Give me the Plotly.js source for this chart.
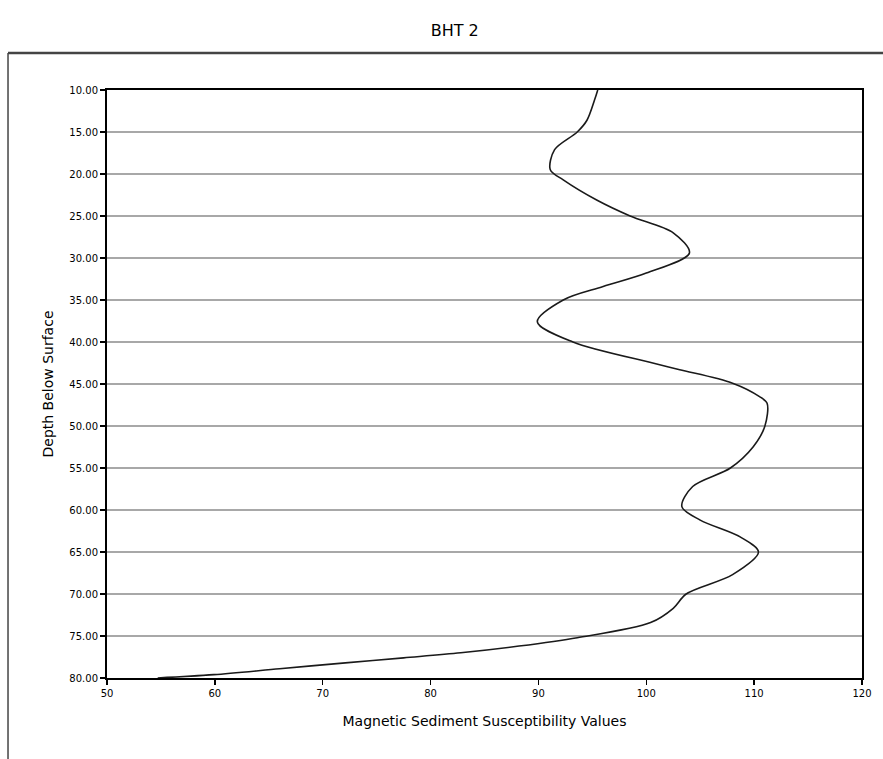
<!DOCTYPE html>
<html>
<head>
<meta charset="utf-8">
<script src="https://cdn.plot.ly/plotly-3.0.1.min.js"></script>
<style>html,body{margin:0;padding:0;background:#fff;}#chart{width:883px;height:759px;}</style>
</head>
<body>
<div id="chart"></div>
<script>
// Depth below surface (y) and susceptibility values (x)
const depth = [10, 11.2, 13.6, 15, 17.1, 19.5, 20.7, 23.1, 25, 27, 29.4, 31.8, 33.4, 35, 37.6, 40, 42.5, 43.3, 44.9, 46.5, 47.3, 50, 52.5, 55, 57.2, 59.6, 61.2, 63.2, 65, 67.7, 70, 71.7, 73.4, 75.2, 76.2, 77, 77.6, 78.2, 78.9, 79.6, 80];
const susceptibility = [95.5, 95.2, 94.5, 93.6, 91.5, 91.1, 92.3, 95.4, 98.5, 102.5, 104.0, 100.0, 96.0, 92.3, 89.9, 93.2, 100.6, 103.1, 108.0, 110.5, 111.2, 111.0, 109.9, 107.8, 104.3, 103.3, 105.0, 108.7, 110.4, 108.0, 103.7, 102.5, 100.4, 93.6, 88.2, 82.8, 77.5, 72.1, 66.0, 59.9, 54.7];
const chartTitle = "BHT 2";
const xTitle = "Magnetic Sediment Susceptibility Values";
const yTitle = "Depth Below Surface";

const trace = {
  x: susceptibility,
  y: depth,
  type: 'scatter',
  mode: 'lines',
  line: {color: '#1a1a1a', width: 1.6, shape: 'spline', smoothing: 0.9},
  hoverinfo: 'x+y'
};

const layout = {
  width: 883, height: 759,
  margin: {l: 107, r: 21, t: 90, b: 81},
  paper_bgcolor: '#ffffff', plot_bgcolor: '#ffffff',
  showlegend: false,
  font: {family: 'DejaVu Sans, sans-serif', color: '#000'},
  title: {text: chartTitle, font: {size: 16, color: '#000', family: 'DejaVu Sans, sans-serif'},
          xref: 'container', yref: 'container', x: 0.515, xanchor: 'center', y: 0.96, yanchor: 'middle'},
  xaxis: {
    range: [50, 120], dtick: 10, tick0: 50, tickformat: 'd',
    showgrid: false, zeroline: false,
    showline: true, linecolor: '#000', linewidth: 2, mirror: true,
    ticks: 'outside', ticklen: 5, tickwidth: 1.5, tickcolor: '#000',
    tickfont: {size: 10, color: '#000'},
    title: {text: xTitle, font: {size: 14, color: '#000'}, standoff: 18}
  },
  yaxis: {
    range: [80, 10], dtick: 5, tick0: 10, tickformat: '.2f',
    showgrid: true, gridcolor: '#a8a8a8', gridwidth: 1.8,
    zeroline: false,
    showline: true, linecolor: '#000', linewidth: 2, mirror: true,
    ticks: 'outside', ticklen: 5, tickwidth: 1.5, tickcolor: '#000',
    tickfont: {size: 10, color: '#000'},
    title: {text: yTitle, font: {size: 14, color: '#000'}, standoff: 12}
  },
  shapes: [
    {type: 'line', xref: 'paper', yref: 'paper', x0: -0.1311, x1: 1.05, y0: 1.0629, y1: 1.0629,
     line: {color: '#444', width: 2.5}},
    {type: 'line', xref: 'paper', yref: 'paper', x0: -0.1311, x1: -0.1311, y0: 1.0629, y1: -0.2,
     line: {color: '#444', width: 1.5}}
  ]
};

Plotly.newPlot('chart', [trace], layout, {displayModeBar: false, staticPlot: true});
</script>
</body>
</html>
